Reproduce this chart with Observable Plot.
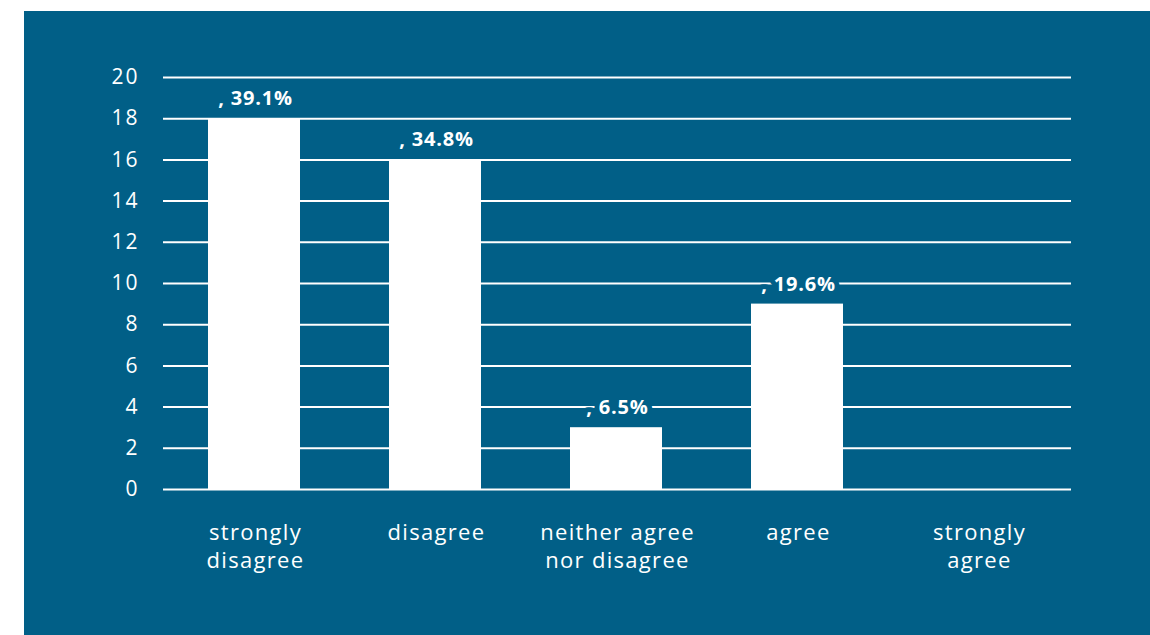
<!DOCTYPE html>
<html>
<head>
<meta charset="utf-8">
<script src="https://cdn.jsdelivr.net/npm/d3@7"></script>
<script src="https://cdn.jsdelivr.net/npm/@observablehq/plot@0.6"></script>
<style>
  html, body { margin: 0; padding: 0; background: #ffffff; }
  #panel { position: absolute; left: 24px; top: 11px; width: 1126px; height: 624px; background: #015f87; }
  #panel svg { display: block; }
  #panel svg g[font-size="22"] { letter-spacing: 1.3px; }
  #panel svg g[font-size="21"] { letter-spacing: 2px; }
  #panel svg g[font-size="20"] { letter-spacing: 0.8px; }
</style>
</head>
<body>
<div id="panel"></div>
<script>
const categories = ["strongly disagree", "disagree", "neither agree nor disagree", "agree", "strongly agree"];
const tickLabels = ["strongly\ndisagree", "disagree", "neither agree\nnor disagree", "agree", "strongly\nagree"];
const counts = [18, 16, 3, 9, 0];
const percentLabels = [", 39.1%", ", 34.8%", ", 6.5%", ", 19.6%", ""];
const yTicks = [0, 2, 4, 6, 8, 10, 12, 14, 16, 18, 20];

const bg = "#015f87";
const data = categories.map((c, i) => ({category: c, count: counts[i], label: percentLabels[i], tick: tickLabels[i]}));

const chart = Plot.plot({
  width: 1126,
  height: 624,
  marginLeft: 139,
  marginRight: 79,
  marginTop: 66,
  marginBottom: 146,
  style: {background: bg, color: "#ffffff", fontFamily: "'Open Sans', sans-serif"},
  x: {domain: categories, range: [139, 1046], paddingInner: 0.49, paddingOuter: 0.245, axis: null},
  y: {domain: [0, 20], axis: null},
  marks: [
    Plot.ruleY(yTicks, {stroke: "#ffffff", strokeWidth: 2}),
    Plot.axisY({ticks: yTicks, tickSize: 0, tickPadding: 24, fontSize: 21, fill: "#ffffff", label: null}),
    Plot.barY(data, {x: "category", y: "count", fill: "#ffffff"}),
    Plot.text(data.filter(d => d.count > 0), {x: "category", y: "count", text: "label", dy: -20, dx: 1, fontSize: 20, fontWeight: "bold", fill: "#ffffff", stroke: bg, strokeWidth: 10, paintOrder: "stroke"}),
    Plot.text(data, {x: "category", text: "tick", frameAnchor: "bottom", lineAnchor: "top", dy: 31, dx: 1, fontSize: 22, lineHeight: 1.25, fill: "#ffffff"})
  ]
});
document.getElementById("panel").appendChild(chart);
</script>
</body>
</html>
